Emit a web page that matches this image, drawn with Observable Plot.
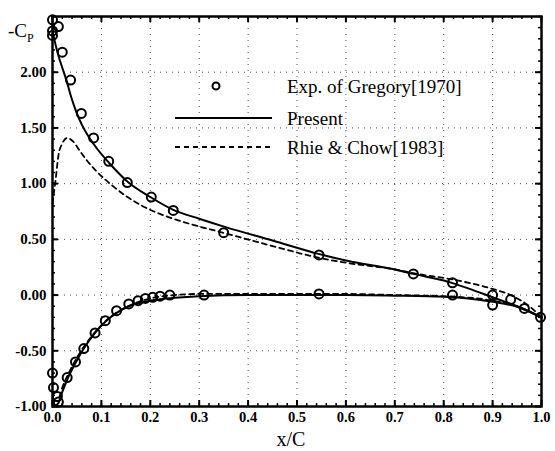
<!DOCTYPE html>
<html><head><meta charset="utf-8">
<script src="https://cdn.jsdelivr.net/npm/d3@7"></script>
<script src="https://cdn.jsdelivr.net/npm/@observablehq/plot@0.6"></script>
<style>
body{margin:0;background:#fff;}
#chart{width:555px;height:451px;}
</style></head><body><div id="chart"></div>
<script>
// Experimental data (Gregory 1970)
const expX  = [0.0, 0.012, 0.0, 0.0, 0.02, 0.037, 0.059, 0.084, 0.115, 0.153, 0.202, 0.247, 0.35, 0.545, 0.738, 0.818, 0.90, 0.937, 0.965, 0.998,
               0.0, 0.002, 0.01, 0.012, 0.03, 0.047, 0.064, 0.087, 0.108, 0.131, 0.156, 0.175, 0.19, 0.205, 0.22, 0.24, 0.31, 0.545, 0.818, 0.90];
const expCp = [2.47, 2.41, 2.37, 2.33, 2.18, 1.93, 1.63, 1.41, 1.20, 1.01, 0.88, 0.76, 0.56, 0.36, 0.19, 0.11, 0.0, -0.04, -0.12, -0.20,
               -0.70, -0.83, -0.91, -0.96, -0.74, -0.60, -0.48, -0.34, -0.23, -0.14, -0.08, -0.05, -0.03, -0.02, -0.01, 0.0, 0.0, 0.01, 0.0, -0.09];

// Present (solid)
const presUpX  = [0, 0.005, 0.012, 0.02, 0.029, 0.038, 0.049, 0.06, 0.074, 0.09, 0.115, 0.153, 0.2, 0.247, 0.3, 0.354, 0.45, 0.544, 0.6, 0.7, 0.738, 0.8, 0.818, 0.85, 0.9, 0.95, 1.0];
const presUpCp = [2.38, 2.27, 2.15, 2.04, 1.92, 1.78, 1.64, 1.53, 1.42, 1.32, 1.19, 1.02, 0.88, 0.765, 0.685, 0.61, 0.49, 0.37, 0.31, 0.23, 0.19, 0.13, 0.107, 0.06, -0.02, -0.10, -0.20];
const presLoX  = [0, 0.005, 0.012, 0.02, 0.03, 0.047, 0.064, 0.087, 0.108, 0.131, 0.156, 0.2, 0.25, 0.3, 0.4, 0.5, 0.6, 0.7, 0.8, 0.85, 0.9, 0.95, 1.0];
const presLoCp = [-0.96, -0.99, -0.97, -0.87, -0.76, -0.61, -0.48, -0.34, -0.24, -0.16, -0.10, -0.05, -0.025, -0.01, 0.0, 0.0, 0.0, -0.005, -0.015, -0.03, -0.06, -0.105, -0.20];

// Rhie & Chow 1983 (dashed)
const rcUpX  = [0, 0.003, 0.006, 0.012, 0.02, 0.03, 0.042, 0.055, 0.07, 0.088, 0.123, 0.155, 0.19, 0.237, 0.292, 0.34, 0.45, 0.544, 0.6, 0.7, 0.746, 0.818, 0.896, 0.937, 0.977, 1.0];
const rcUpCp = [0.82, 0.92, 1.02, 1.25, 1.36, 1.41, 1.38, 1.30, 1.21, 1.12, 0.98, 0.875, 0.786, 0.70, 0.625, 0.57, 0.44, 0.335, 0.29, 0.23, 0.19, 0.14, 0.06, 0.0, -0.107, -0.20];
const rcLoX  = [0, 0.01, 0.02, 0.04, 0.06, 0.08, 0.1, 0.13, 0.16, 0.2, 0.25, 0.3, 0.4, 0.5, 0.6, 0.7, 0.8, 0.9, 0.95, 1.0];
const rcLoCp = [-0.95, -0.95, -0.83, -0.64, -0.49, -0.37, -0.27, -0.16, -0.09, -0.03, 0.0, 0.01, 0.01, 0.01, 0.01, 0.0, -0.01, -0.05, -0.10, -0.20];

// Ticks
const xMajor = [0, 0.1, 0.2, 0.3, 0.4, 0.5, 0.6, 0.7, 0.8, 0.9, 1.0];
const xMinor = d3.range(0, 51).map(i => i / 50);
const yMajor = [-1.0, -0.5, 0.0, 0.5, 1.0, 1.5, 2.0];
const yMinor = d3.range(0, 36).map(i => -1 + i / 10);

const legendLabels = ["Exp. of Gregory[1970]", "Present", "Rhie & Chow[1983]"];

const toRows = (xs, ys, s) => xs.map((x, i) => ({x, cp: ys[i], s}));
const expRows = toRows(expX, expCp, "exp");
const presRows = [...toRows(presUpX, presUpCp, "up"), ...toRows(presLoX, presLoCp, "lo")];
const rcRows = [...toRows(rcUpX, rcUpCp, "up"), ...toRows(rcLoX, rcLoCp, "lo")];

const W = 555, H = 451, mt = 16, mr = 14, mb = 45, ml = 52;
const iw = W - ml - mr, ih = H - mt - mb;
const font = "Liberation Serif, Times New Roman, serif";

const plot = Plot.plot({
  width: W, height: H,
  marginTop: mt, marginRight: mr, marginBottom: mb, marginLeft: ml,
  x: {domain: [0, 1]},
  y: {domain: [-1, 2.5]},
  style: {fontFamily: font, background: "white", color: "black"},
  marks: [
    Plot.gridX(xMajor.slice(1, -1), {stroke: "black", strokeOpacity: 0.7, strokeDasharray: "1,5"}),
    Plot.gridY(yMajor.slice(1), {stroke: "black", strokeOpacity: 0.7, strokeDasharray: "1,5"}),
    Plot.line(presRows, {x: "x", y: "cp", z: "s", curve: "monotone-x", stroke: "black", strokeWidth: 2}),
    Plot.line(rcRows, {x: "x", y: "cp", z: "s", curve: "monotone-x", stroke: "black", strokeWidth: 1.8, strokeDasharray: "5,4"}),
    Plot.dot(expRows, {x: "x", y: "cp", r: 4.5, stroke: "black", strokeWidth: 2, fill: "none"}),
    // inward ticks
    Plot.ruleX(xMajor, {x: d => d, insetTop: ih - 6, stroke: "black", strokeWidth: 2}),
    Plot.ruleX(xMinor, {x: d => d, insetTop: ih - 3, stroke: "black", strokeWidth: 1.5}),
    Plot.ruleX(xMajor, {x: d => d, insetBottom: ih - 6, stroke: "black", strokeWidth: 2}),
    Plot.ruleX(xMinor, {x: d => d, insetBottom: ih - 3, stroke: "black", strokeWidth: 1.5}),
    Plot.ruleY(yMajor, {y: d => d, insetRight: iw - 6, stroke: "black", strokeWidth: 2}),
    Plot.ruleY(yMinor, {y: d => d, insetRight: iw - 3, stroke: "black", strokeWidth: 1.5}),
    Plot.ruleY(yMajor, {y: d => d, insetLeft: iw - 6, stroke: "black", strokeWidth: 2}),
    Plot.ruleY(yMinor, {y: d => d, insetLeft: iw - 3, stroke: "black", strokeWidth: 1.5}),
    Plot.frame({stroke: "black", strokeWidth: 2.5}),
    Plot.axisX({ticks: xMajor, tickSize: 0, tickPadding: 5, tickFormat: d => d.toFixed(1), label: null, fontSize: 14.5, fontWeight: "bold"}),
    Plot.axisY({ticks: yMajor, tickSize: 0, tickPadding: 6, tickFormat: d => d.toFixed(2), label: null, fontSize: 15, fontWeight: "bold"})
  ]
});

const svg = d3.select(plot);
// axis titles
svg.append("text").attr("x", 291).attr("y", 446).attr("text-anchor", "middle")
  .attr("font-family", font).attr("font-size", 20).text("x/C");
const cpLabel = svg.append("text").attr("x", 8).attr("y", 37).attr("text-anchor", "start")
  .attr("font-family", font).attr("font-size", 19);
cpLabel.append("tspan").text("-C");
cpLabel.append("tspan").attr("font-size", 12).attr("dy", 5).text("P");

// legend
const lg = svg.append("g").attr("font-family", font).attr("font-size", 19).attr("text-anchor", "start");
lg.append("circle").attr("cx", 216).attr("cy", 86).attr("r", 3.5).attr("fill", "none").attr("stroke", "black").attr("stroke-width", 2);
lg.append("line").attr("x1", 175).attr("x2", 272).attr("y1", 118).attr("y2", 118).attr("stroke", "black").attr("stroke-width", 2);
lg.append("line").attr("x1", 175).attr("x2", 272).attr("y1", 147).attr("y2", 147).attr("stroke", "black").attr("stroke-width", 1.8).attr("stroke-dasharray", "5,4");
[86, 118, 147].forEach((y, i) => {
  lg.append("text").attr("x", 287).attr("y", y).attr("dy", "0.35em").text(legendLabels[i]);
});

document.getElementById("chart").appendChild(plot);
</script>
</body></html>
